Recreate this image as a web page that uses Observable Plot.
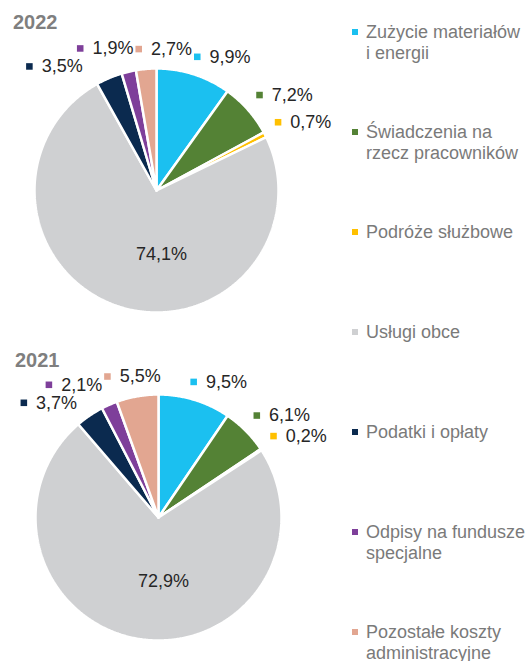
<!DOCTYPE html>
<html>
<head>
<meta charset="utf-8">
<script src="https://cdn.jsdelivr.net/npm/d3@7"></script>
<script src="https://cdn.jsdelivr.net/npm/@observablehq/plot@0.6"></script>
<style>
  body { margin: 0; background: #fff; font-family: "Liberation Sans", Arial, sans-serif; }
  #root { position: relative; width: 527px; height: 661px; overflow: hidden; background: #fff; }
  .title { position: absolute; font-weight: bold; font-size: 20px; line-height: 20px; color: #7f7f7f; }
  .pie { position: absolute; left: 0; }
  .pie svg { overflow: visible; }
  .leg { position: absolute; left: 352px; font-size: 18px; line-height: 21px; color: #7a7a7a; }
  .leg .sw { position: absolute; left: 0; top: 7px; width: 6px; height: 6px; }
  .leg .tx { position: absolute; left: 14px; white-space: nowrap; }
</style>
</head>
<body>
<div id="root"></div>
<script>
// ---- data ----
const categories = [
  "Zużycie materiałów i energii",
  "Świadczenia na rzecz pracowników",
  "Podróże służbowe",
  "Usługi obce",
  "Podatki i opłaty",
  "Odpisy na fundusze specjalne",
  "Pozostałe koszty administracyjne"
];
const legendLines = [
  ["Zużycie materiałów", "i energii"],
  ["Świadczenia na", "rzecz pracowników"],
  ["Podróże służbowe"],
  ["Usługi obce"],
  ["Podatki i opłaty"],
  ["Odpisy na fundusze", "specjalne"],
  ["Pozostałe koszty", "administracyjne"]
];
const colors = ["#1bc0f0", "#548235", "#ffc000", "#cfd0d2", "#0b2a4f", "#7e3f9a", "#e2a691"];
const years = ["2022", "2021"];
const values2022 = [9.9, 7.2, 0.7, 74.1, 3.5, 1.9, 2.7];
const values2021 = [9.5, 6.1, 0.2, 72.9, 3.7, 2.1, 5.5];

// ---- helpers ----
const FONT = '"Liberation Sans", Arial, sans-serif';
const fmt = v => v.toFixed(1).replace(".", ",") + "%";
const ctx = document.createElement("canvas").getContext("2d");
ctx.font = '18px "Liberation Sans", Arial, sans-serif';

// outside-end placement on the slice's mid ray (box slides from centred at the top
// to corner-anchored at the sides), then overlapping boxes are pushed apart.
function layoutLabels(labels, r) {
  const R = r + 11, padX = 2, padY = 3, minR = r + 9;
  labels.forEach(l => {
    const sx = Math.sin(l.mid), sy = -Math.cos(l.mid);
    const px = R * sx, py = R * sy;
    const g = Math.max(-1, Math.min(1, sx * 2.5));
    l.cx = px + g * l.w / 2;
    l.cy = py + (sy >= 0 ? 1 : -1) * l.h / 2;
  });
  for (let it = 0; it < 600; it++) {
    for (let i = 0; i < labels.length; i++) {
      for (let j = i + 1; j < labels.length; j++) {
        const a = labels[i], b = labels[j];
        let dx = b.cx - a.cx, dy = b.cy - a.cy;
        const Sx = (a.w + b.w) / 2 + padX, Sy = (a.h + b.h) / 2 + padY;
        if (Math.abs(dx) >= Sx || Math.abs(dy) >= Sy) continue;
        if (Math.abs(dx) < 1e-6 && Math.abs(dy) < 1e-6) dx = 1;
        const t = Math.min(Math.abs(dx) > 1e-6 ? Sx / Math.abs(dx) : Infinity,
                           Math.abs(dy) > 1e-6 ? Sy / Math.abs(dy) : Infinity);
        const ex = dx * (t - 1) * 0.25, ey = dy * (t - 1) * 0.25;
        a.cx -= ex; a.cy -= ey; b.cx += ex; b.cy += ey;
      }
    }
    labels.forEach(l => {
      const px = Math.min(Math.max(0, l.cx - l.w / 2), l.cx + l.w / 2);
      const py = Math.min(Math.max(0, l.cy - l.h / 2), l.cy + l.h / 2);
      const d = Math.hypot(px, py);
      if (d < minR) {
        let ux, uy;
        if (d < 1e-6) { ux = Math.sin(l.mid); uy = -Math.cos(l.mid); }
        else { ux = px / d; uy = py / d; }
        l.cx += ux * (minR - d); l.cy += uy * (minR - d);
      }
    });
  }
  labels.forEach(l => {
    const left = l.cx - l.w / 2;
    l.mx = left + 3.25;
    l.my = l.cy;
    l.tx = left + 15.5;
    l.ty = l.cy;
  });
  return labels;
}

function piePlot(values, W, H, cx, cy, r) {
  const arcs = d3.pie().sort(null).value(d => d)(values);
  const pts = [];
  const outLabels = [], inLabels = [];
  arcs.forEach((a, i) => {
    const cat = categories[i];
    const a0 = a.startAngle, a1 = a.endAngle;
    const n = Math.max(2, Math.ceil((a1 - a0) / (Math.PI / 360)));
    pts.push({ key: i, cat, x: 0, y: 0 });
    for (let k = 0; k <= n; k++) {
      const t = a0 + (a1 - a0) * k / n;
      pts.push({ key: i, cat, x: r * Math.sin(t), y: -r * Math.cos(t) });
    }
    pts.push({ key: i, cat, x: 0, y: 0 });
    const mid = (a0 + a1) / 2;
    const text = fmt(values[i]);
    if (values[i] > 50) {
      // Excel puts the big slice's label just below the pie centre
      inLabels.push({ cat, text, tx: 5, ty: 0.52 * r });
    } else {
      const tw = ctx.measureText(text).width;
      outLabels.push({ cat, text, mid, w: 15.5 + tw, h: 15 });
    }
  });
  layoutLabels(outLabels, r);
  return Plot.plot({
    width: W, height: H, margin: 0,
    x: { domain: [-cx, W - cx], range: [0, W], axis: null },
    y: { domain: [-cy, H - cy], range: [0, H], axis: null },
    color: { domain: categories, range: colors },
    style: { fontFamily: FONT, background: "transparent", overflow: "visible" },
    marks: [
      Plot.line(pts, { x: "x", y: "y", z: "key", fill: "cat", stroke: "white", strokeWidth: 2.5, strokeLinejoin: "miter" }),
      Plot.dot(outLabels, { x: "mx", y: "my", symbol: "square", r: 3.7, fill: "cat" }),
      Plot.text(outLabels, { x: "tx", y: "ty", text: "text", textAnchor: "start", fontSize: 18, fill: "#262626" }),
      Plot.text(inLabels, { x: "tx", y: "ty", text: "text", fontSize: 18, fill: "#262626" })
    ]
  });
}

// ---- build ----
const root = document.getElementById("root");

function addTitle(txt, left, top) {
  const d = document.createElement("div");
  d.className = "title"; d.textContent = txt;
  d.style.left = left + "px"; d.style.top = top + "px";
  root.appendChild(d);
}
function addPie(values, top, W, H, cx, cy, r) {
  const d = document.createElement("div");
  d.className = "pie"; d.style.top = top + "px";
  d.appendChild(piePlot(values, W, H, cx, cy, r));
  root.appendChild(d);
}

addPie(values2022, 25, 340, 320, 156, 165, 122);
addPie(values2021, 350, 340, 311, 158, 167, 123);
addTitle(years[0], 13, 12);
addTitle(years[1], 15, 350);

legendLines.forEach((lines, i) => {
  const item = document.createElement("div");
  item.className = "leg";
  item.style.top = (21.5 + 100 * i) + "px";
  const sw = document.createElement("div");
  sw.className = "sw"; sw.style.background = colors[i];
  const tx = document.createElement("div");
  tx.className = "tx";
  lines.forEach((ln, k) => {
    if (k) tx.appendChild(document.createElement("br"));
    tx.appendChild(document.createTextNode(ln));
  });
  item.appendChild(sw); item.appendChild(tx);
  root.appendChild(item);
});
</script>
</body>
</html>
